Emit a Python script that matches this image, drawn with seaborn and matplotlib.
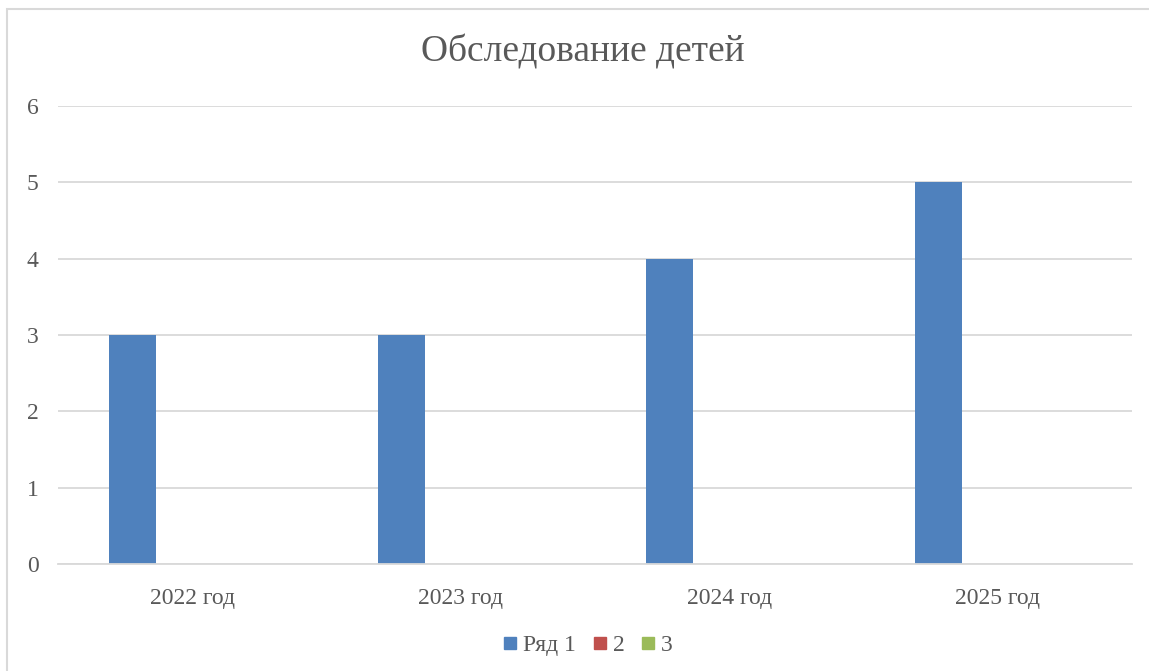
import matplotlib
matplotlib.use("Agg")
import matplotlib.pyplot as plt
import seaborn as sns
import pandas as pd
from matplotlib.patches import Rectangle
from matplotlib.lines import Line2D

categories = ["2022 год", "2023 год", "2024 год", "2025 год"]
series_names = ["Ряд 1", "2", "3"]
series1 = [3, 3, 4, 5]
series2 = [0, 0, 0, 0]
series3 = [0, 0, 0, 0]
colors = ["#4F81BD", "#C0504D", "#9BBB59"]
yticks = [0, 1, 2, 3, 4, 5, 6]

rows = []
for name, vals in zip(series_names, [series1, series2, series3]):
    for c, v in zip(categories, vals):
        rows.append({"cat": c, "series": name, "value": v})
df = pd.DataFrame(rows)

sns.set_theme(style="white")
plt.rcParams["font.family"] = ["Liberation Serif", "DejaVu Serif"]

fig = plt.figure(figsize=(11.49, 6.71), dpi=100)
ax = fig.add_axes([58/1149, 1-564/671, (1132-58)/1149, (564-106)/671])

sns.barplot(data=df, x="cat", y="value", hue="series", palette=colors,
            width=0.665, gap=0.21, ax=ax, legend=False, saturation=1, linewidth=0)

ax.set_ylim(0, 6)
ax.set_xlim(-0.5, 3.5)
ax.set_yticks(yticks)
ax.yaxis.grid(True, color="#D9D9D9", linewidth=1.3)
ax.set_axisbelow(True)
for s in ["left", "right", "top"]:
    ax.spines[s].set_visible(False)
ax.spines["bottom"].set_color("#D9D9D9")
ax.spines["bottom"].set_linewidth(1.3)
ax.tick_params(axis="both", length=0, labelsize=17, colors="#595959")
ax.tick_params(axis="y", pad=14)
ax.tick_params(axis="x", pad=17)
ax.set_xlabel("")
ax.set_ylabel("")

fig.text(583/1149, 1-52/671, "Обследование детей", ha="center", va="center",
         fontsize=27, color="#595959")

handles = [Line2D([], [], marker="s", linestyle="none", markersize=8.5,
                  markerfacecolor=c, markeredgecolor=c) for c in colors]
fig.legend(handles, series_names, loc="center", bbox_to_anchor=(587/1149, 1-645/671),
           ncol=3, frameon=False, fontsize=17, labelcolor="#595959",
           handletextpad=0.15, columnspacing=0.6, handlelength=0.8)

fig.patches.append(Rectangle((7/1149, -0.1), 1.2, 1 - 9/671 + 0.1, transform=fig.transFigure,
                             fill=False, edgecolor="#D9D9D9", linewidth=1.5, figure=fig))

fig.savefig("out.png", dpi=100)
